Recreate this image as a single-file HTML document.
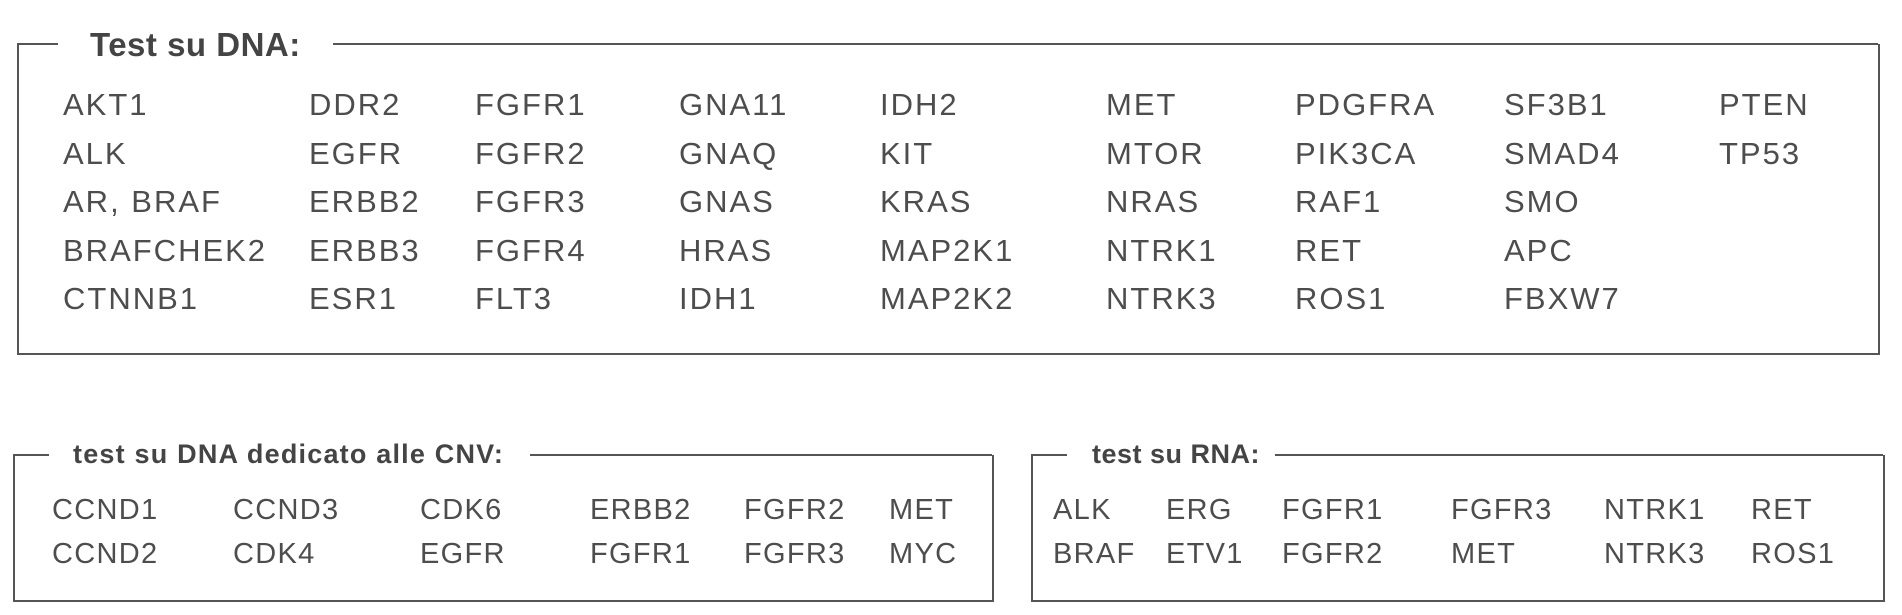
<!DOCTYPE html>
<html><head><meta charset="utf-8"><style>
body{margin:0;width:1902px;height:615px;background:#fff;position:relative;overflow:hidden;font-family:"Liberation Sans",sans-serif;color:#4d4d4d}
.box{position:absolute;border:2px solid #555;border-top:none}
.ln{position:absolute;height:2px;background:#555}
.t{position:absolute;font-weight:bold;color:#444;white-space:nowrap;line-height:1}
.i{position:absolute;white-space:nowrap;line-height:1;font-size:31px;letter-spacing:2px}
.s{font-size:29px;letter-spacing:1.3px}
</style></head><body>
<div class="box" style="left:17px;top:44px;width:1859px;height:309px"></div>
<div class="ln" style="left:17px;top:43px;width:41px"></div>
<div class="ln" style="left:333px;top:43px;width:1545px"></div>
<div class="t" style="left:90px;top:28px;font-size:33px;letter-spacing:0.5px">Test su DNA:</div>

<div class="box" style="left:13px;top:455px;width:977px;height:145px"></div>
<div class="ln" style="left:13px;top:454px;width:36px"></div>
<div class="ln" style="left:530px;top:454px;width:462px"></div>
<div class="t" style="left:73px;top:441px;font-size:27px;letter-spacing:1.2px">test su DNA dedicato alle CNV:</div>

<div class="box" style="left:1031px;top:455px;width:850px;height:145px"></div>
<div class="ln" style="left:1031px;top:454px;width:36px"></div>
<div class="ln" style="left:1275px;top:454px;width:608px"></div>
<div class="t" style="left:1092px;top:441px;font-size:27px;letter-spacing:0.5px">test su RNA:</div>

<div id="top"></div>
<script>
var cols=[63,309,475,679,880,1106,1295,1504,1719];
var data=[["AKT1","ALK","AR, BRAF","BRAFCHEK2","CTNNB1"],["DDR2","EGFR","ERBB2","ERBB3","ESR1"],["FGFR1","FGFR2","FGFR3","FGFR4","FLT3"],["GNA11","GNAQ","GNAS","HRAS","IDH1"],["IDH2","KIT","KRAS","MAP2K1","MAP2K2"],["MET","MTOR","NRAS","NTRK1","NTRK3"],["PDGFRA","PIK3CA","RAF1","RET","ROS1"],["SF3B1","SMAD4","SMO","APC","FBXW7"],["PTEN","TP53"]];
var h="";
data.forEach(function(c,ci){c.forEach(function(t,ri){h+='<div class="i" style="left:'+cols[ci]+'px;top:'+(89+ri*48.6)+'px">'+t+'</div>';});});
var c2=[52,233,420,590,744,889],d2=[["CCND1","CCND2"],["CCND3","CDK4"],["CDK6","EGFR"],["ERBB2","FGFR1"],["FGFR2","FGFR3"],["MET","MYC"]];
d2.forEach(function(c,ci){c.forEach(function(t,ri){h+='<div class="i s" style="left:'+c2[ci]+'px;top:'+(496+ri*44)+'px">'+t+'</div>';});});
var c3=[1053,1166,1282,1451,1604,1751],d3=[["ALK","BRAF"],["ERG","ETV1"],["FGFR1","FGFR2"],["FGFR3","MET"],["NTRK1","NTRK3"],["RET","ROS1"]];
d3.forEach(function(c,ci){c.forEach(function(t,ri){h+='<div class="i s" style="left:'+c3[ci]+'px;top:'+(496+ri*44)+'px">'+t+'</div>';});});
document.getElementById("top").innerHTML=h;
</script>
</body></html>
